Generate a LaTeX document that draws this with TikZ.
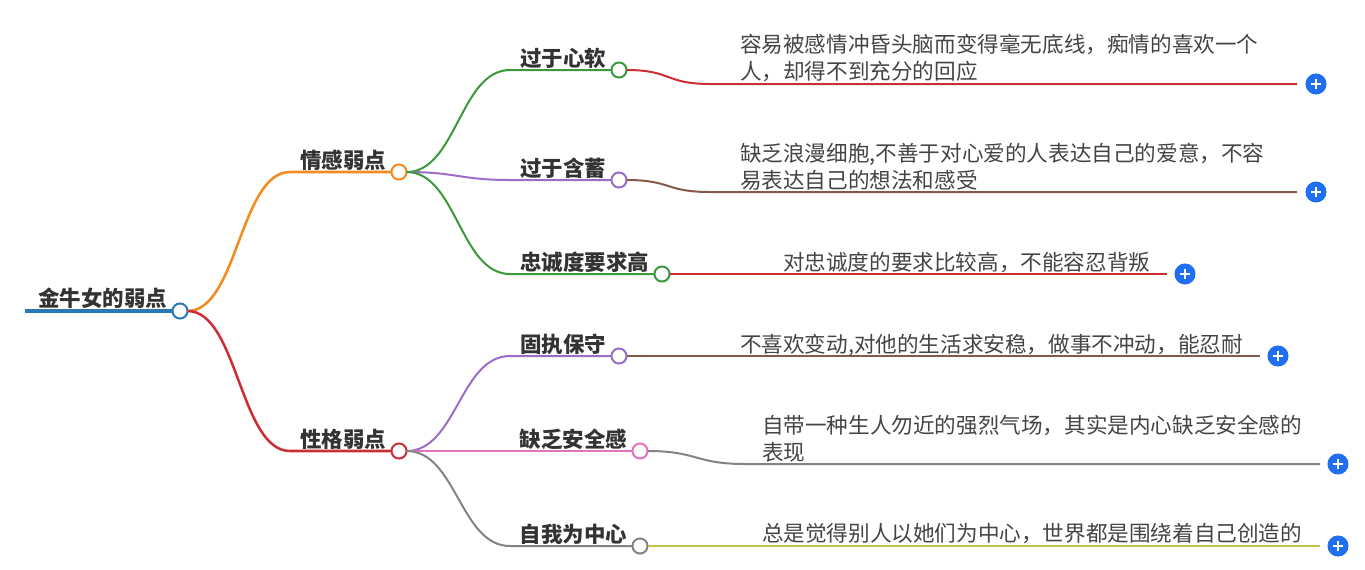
\documentclass[tikz,border=0pt]{standalone}
\usepackage{fontspec}
\setmainfont{Noto Sans CJK SC}
\definecolor{txt}{HTML}{333333}
\definecolor{leaftxt}{HTML}{444444}
\definecolor{cblue}{HTML}{2B78B8}
\definecolor{corange}{HTML}{F38B1F}
\definecolor{cred}{HTML}{CC2F33}
\definecolor{cgreen}{HTML}{3A9A3A}
\definecolor{cpurple}{HTML}{9B6DC8}
\definecolor{cbrown}{HTML}{85594B}
\definecolor{cpink}{HTML}{E273BC}
\definecolor{cgray}{HTML}{838383}
\definecolor{colive}{HTML}{C2C247}
\definecolor{cplus}{HTML}{1F6FF0}
\begin{document}
\begin{tikzpicture}[x=0.75pt,y=-0.75pt,
  every node/.style={inner sep=0pt,outer sep=0pt},
  dot/.style={circle,draw=#1,fill=white,line width=1.5pt,minimum size=11.3pt},
  lbl/.style={font=\fontsize{16.1pt}{20pt}\selectfont\bfseries,text=txt,anchor=base east},
  leaf/.style={font=\fontsize{16.2pt}{20.25pt}\selectfont,text=leaftxt,anchor=base west,align=left},
  plusbtn/.style={circle,fill=cplus,minimum size=15.8pt,
    path picture={
      \draw[white,line width=1.5pt]
        ([xshift=-4pt]path picture bounding box.center) -- ([xshift=4pt]path picture bounding box.center)
        ([yshift=-4pt]path picture bounding box.center) -- ([yshift=4pt]path picture bounding box.center);}},
  link/.style={draw=#1,line width=1.5pt},
  mainlink/.style={draw=#1,line width=1.9pt}]
\useasboundingbox (0,0) rectangle (1365,569);

% root
\coordinate (r0) at (25,311);
\node[dot=cblue] (root) at (180,311) {};
\node[lbl] (rootl) at (167,306) {金牛女的弱点};
\draw[cblue,line width=3pt] (r0) -- (root.west);

% level 1
\node[dot=corange] (E) at (399,172) {};
\node[dot=cred] (P) at (399,451) {};
\coordinate (e0) at (290,172);
\coordinate (p0) at (290,451);
\node[lbl] (El) at (386,168) {情感弱点};
\node[lbl] (Pl) at (386,447) {性格弱点};
\draw[mainlink=corange] (root.east) .. controls +(50,0) and +(-50,0) .. (e0) -- (E.west);
\draw[mainlink=cred] (root.east) .. controls +(50,0) and +(-50,0) .. (p0) -- (P.west);

% level 2
\node[dot=cgreen] (A1) at (619,70) {};
\node[dot=cpurple] (A2) at (619,180) {};
\node[dot=cgreen] (A3) at (662,274) {};
\node[dot=cpurple] (B1) at (619,356) {};
\node[dot=cpink] (B2) at (640,451) {};
\node[dot=cgray] (B3) at (640,546) {};
\coordinate (a1) at (510,70);
\coordinate (a2) at (510,180);
\coordinate (a3) at (510,274);
\coordinate (b1) at (510,356);
\coordinate (b2) at (510,451);
\coordinate (b3) at (510,546);
\node[lbl] (A1l) at (606,66) {过于心软};
\node[lbl] (A2l) at (606,176) {过于含蓄};
\node[lbl] (A3l) at (649,270) {忠诚度要求高};
\node[lbl] (B1l) at (606,352) {固执保守};
\node[lbl] (B2l) at (627,447) {缺乏安全感};
\node[lbl] (B3l) at (627,542) {自我为中心};
\draw[link=cgreen] (E.east) .. controls +(50,0) and +(-50,0) .. (a1) -- (A1.west);
\draw[link=cpurple] (E.east) .. controls +(50,0) and +(-50,0) .. (a2) -- (A2.west);
\draw[link=cgreen] (E.east) .. controls +(50,0) and +(-50,0) .. (a3) -- (A3.west);
\draw[link=cpurple] (P.east) .. controls +(50,0) and +(-50,0) .. (b1) -- (B1.west);
\draw[link=cpink] (P.east) .. controls +(50,0) and +(-50,0) .. (b2) -- (B2.west);
\draw[link=cgray] (P.east) .. controls +(50,0) and +(-50,0) .. (b3) -- (B3.west);

% level 3 leaves
\node[plusbtn] (X1) at (1316,84) {};
\node[plusbtn] (X2) at (1316,192) {};
\node[plusbtn] (X3) at (1185,274) {};
\node[plusbtn] (X4) at (1278,356) {};
\node[plusbtn] (X5) at (1338,464) {};
\node[plusbtn] (X6) at (1338,546) {};
\coordinate (c1) at (710,84);   \coordinate (d1) at (1297,84);
\coordinate (c2) at (710,192);  \coordinate (d2) at (1297,192);
\coordinate (d3) at (1167,274);
\coordinate (d4) at (1260,356);
\coordinate (c5) at (745,464);  \coordinate (d5) at (1320,464);
\coordinate (d6) at (1320,546);
\draw[link=cred] (A1.east) .. controls +(45,0) and +(-45,0) .. (c1) -- (d1);
\draw[link=cbrown] (A2.east) .. controls +(45,0) and +(-45,0) .. (c2) -- (d2);
\draw[link=cred] (A3.east) -- (d3);
\draw[link=cbrown] (B1.east) -- (d4);
\draw[link=cgray] (B2.east) .. controls +(50,0) and +(-50,0) .. (c5) -- (d5);
\draw[link=colive] (B3.east) -- (d6);

\node[leaf] (T1) at (740,79) {容易被感情冲昏头脑而变得毫无底线，痴情的喜欢一个\\人，却得不到充分的回应};
\node[leaf] (T2) at (740,188) {缺乏浪漫细胞,不善于对心爱的人表达自己的爱意，不容\\易表达自己的想法和感受};
\node[leaf] (T3) at (783,270) {对忠诚度的要求比较高，不能容忍背叛};
\node[leaf] (T4) at (740,352) {不喜欢变动,对他的生活求安稳，做事不冲动，能忍耐};
\node[leaf] (T5) at (762,460) {自带一种生人勿近的强烈气场，其实是内心缺乏安全感的\\表现};
\node[leaf] (T6) at (762,541) {总是觉得别人以她们为中心，世界都是围绕着自己创造的};
\end{tikzpicture}
\end{document}
